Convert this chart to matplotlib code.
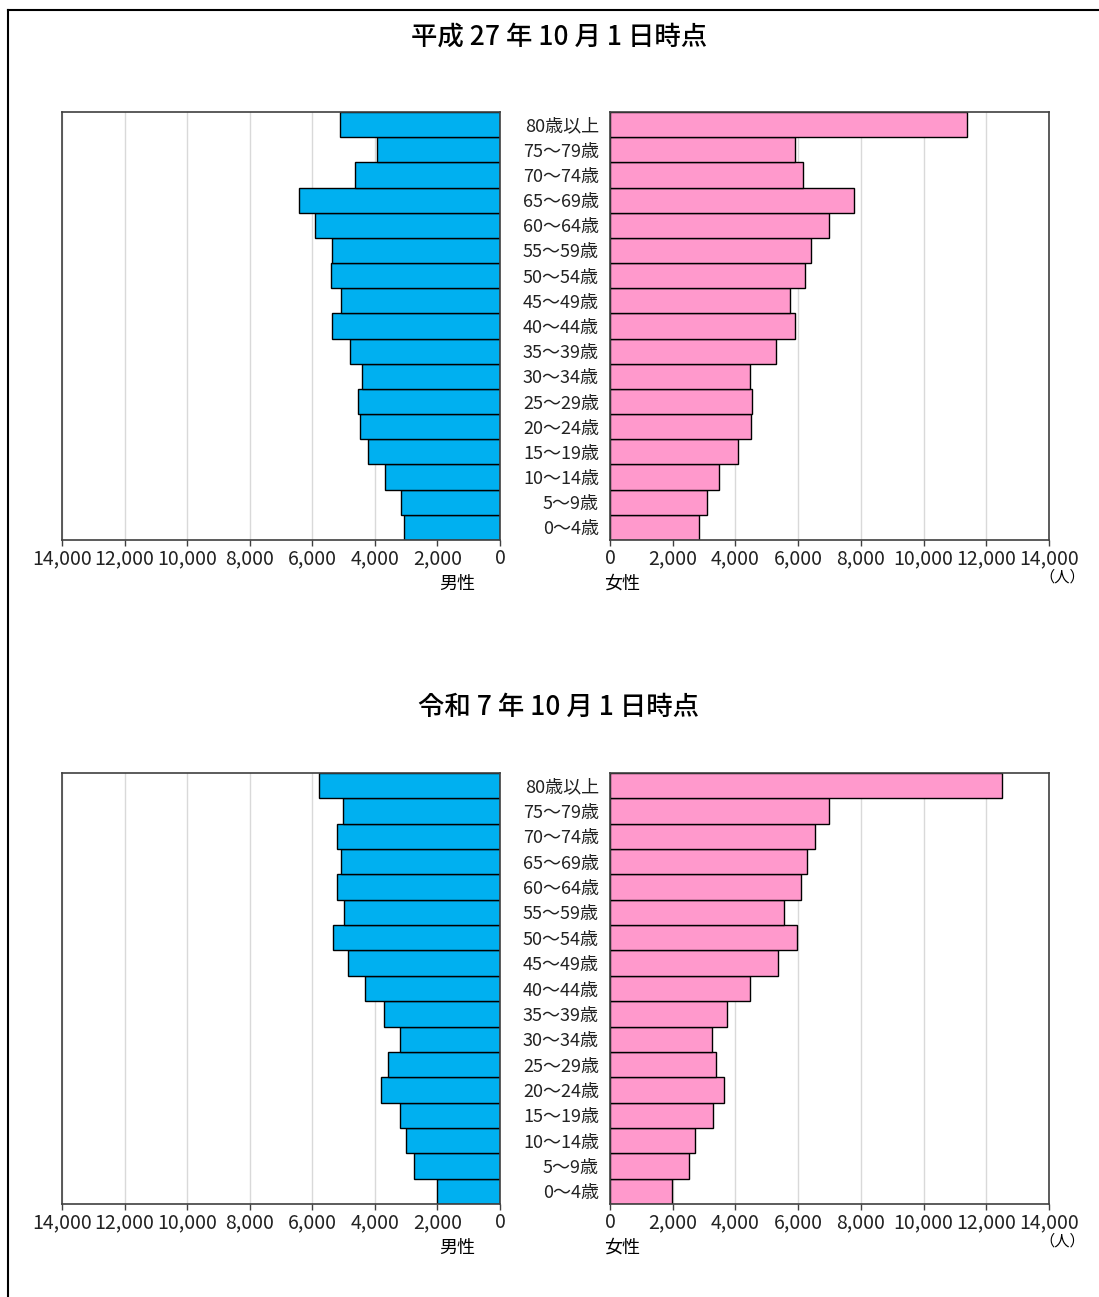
import matplotlib.pyplot as plt
from matplotlib.lines import Line2D
from matplotlib.ticker import FuncFormatter

plt.rcParams["font.family"] = ["Noto Sans CJK JP", "DejaVu Sans"]

# Age groups (bottom to top)
ages = ["0～4歳", "5～9歳", "10～14歳", "15～19歳", "20～24歳", "25～29歳",
        "30～34歳", "35～39歳", "40～44歳", "45～49歳", "50～54歳", "55～59歳",
        "60～64歳", "65～69歳", "70～74歳", "75～79歳", "80歳以上"]

# 平成27年10月1日時点
male_h27 = [3070, 3170, 3670, 4220, 4470, 4530, 4420, 4800, 5360, 5080,
            5390, 5360, 5910, 6440, 4640, 3930, 5100]
female_h27 = [2830, 3090, 3480, 4080, 4510, 4520, 4480, 5280, 5910, 5740,
              6230, 6410, 6980, 7770, 6170, 5890, 11370]

# 令和7年10月1日時点
male_r7 = [2020, 2760, 3010, 3200, 3810, 3570, 3190, 3700, 4320, 4850,
           5330, 4980, 5220, 5070, 5210, 5010, 5780]
female_r7 = [1970, 2510, 2710, 3290, 3640, 3390, 3240, 3740, 4450, 5350,
             5970, 5540, 6090, 6290, 6530, 6980, 12490]

titles = ["平成 27 年 10 月 1 日時点", "令和 7 年 10 月 1 日時点"]
xticks = [0, 2000, 4000, 6000, 8000, 10000, 12000, 14000]

W, H = 1099, 1297
BLUE = "#00B0F0"
PINK = "#FF99CC"
GRID = "#d9d9d9"
SPINE = "#404040"

fig = plt.figure(figsize=(W / 100, H / 100), dpi=100)


def px_axes(x0, y0, x1, y1):
    # add axes using pixel coords (top-left origin)
    return fig.add_axes([x0 / W, 1 - y1 / H, (x1 - x0) / W, (y1 - y0) / H])


def px_text(x, y, s, **kw):
    fig.text(x / W, 1 - y / H, s, ha="center", va="center", **kw)


fmt = FuncFormatter(lambda v, p: f"{int(v):,}")


def style_axis(ax):
    ax.set_xlim(0, 14000)
    ax.set_ylim(-0.5, len(ages) - 0.5)
    ax.set_xticks(xticks)
    ax.xaxis.set_major_formatter(fmt)
    ax.grid(axis="x", color=GRID, linewidth=1)
    ax.set_axisbelow(True)
    for s in ax.spines.values():
        s.set_color(SPINE)
        s.set_linewidth(1.2)
    ax.tick_params(axis="x", length=4, width=1, color=SPINE, labelsize=14,
                   pad=2, labelcolor="#222222")


def pyramid(title_y, top, bottom, male, female, title):
    pos = range(len(ages))

    # male side
    axm = px_axes(62, top, 500, bottom)
    axm.barh(pos, male, height=1.0, color=BLUE, edgecolor="black", linewidth=1)
    style_axis(axm)
    axm.invert_xaxis()
    axm.set_yticks([])

    # female side
    axf = px_axes(610, top, 1049, bottom)
    axf.barh(pos, female, height=1.0, color=PINK, edgecolor="black", linewidth=1)
    style_axis(axf)
    axf.set_yticks(list(pos))
    axf.set_yticklabels(ages)
    axf.tick_params(axis="y", length=0, pad=8, labelsize=13, labelcolor="#222222")

    # titles and labels
    px_text(559, title_y, title, fontsize=19, fontweight="medium")
    px_text(457, bottom + 44, "男性", fontsize=13)
    px_text(622, bottom + 44, "女性", fontsize=13)
    px_text(1062, bottom + 37, "（人）", fontsize=11)


pyramid(37, 112, 540, male_h27, female_h27, titles[0])
pyramid(707, 773, 1204, male_r7, female_r7, titles[1])

# outer frame (cropped box)
fig.add_artist(Line2D([8 / W, 8 / W], [0, 1 - 10 / H], color="black", linewidth=1.5))
fig.add_artist(Line2D([8 / W, 1], [1 - 10 / H, 1 - 10 / H], color="black", linewidth=1.5))

plt.savefig("out.png", dpi=100, facecolor="white")
plt.close()
